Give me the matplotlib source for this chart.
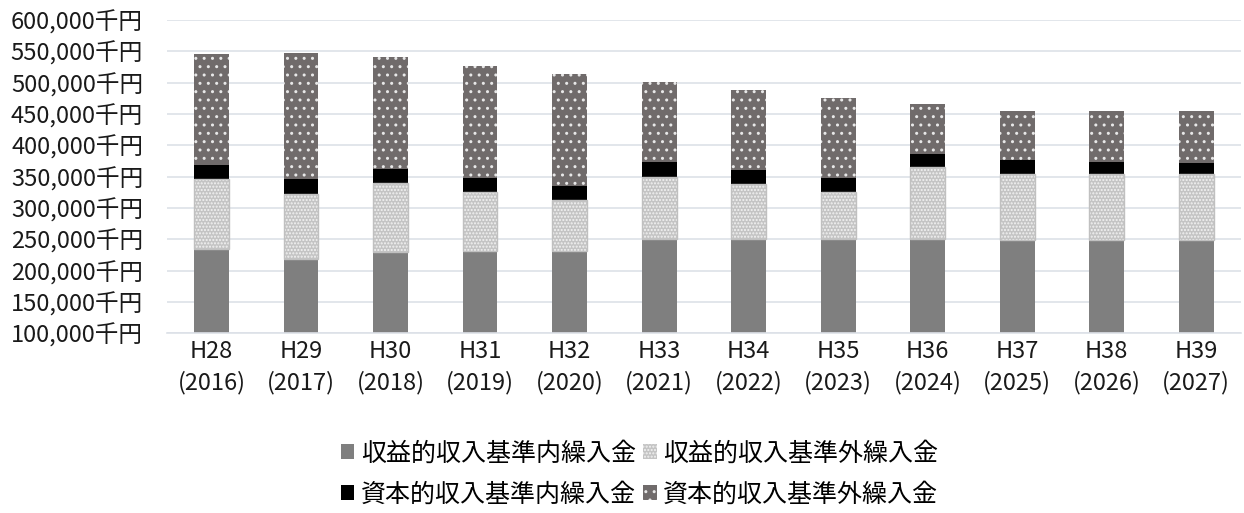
# -*- coding: utf-8 -*-
# 繰入金の推移（積み上げ棒グラフ）
import matplotlib
matplotlib.use('Agg')
import matplotlib.pyplot as plt
from matplotlib.ticker import FuncFormatter
from matplotlib.patches import Patch

# ============================= Data =============================
years = ['H28\n(2016)', 'H29\n(2017)', 'H30\n(2018)', 'H31\n(2019)',
         'H32\n(2020)', 'H33\n(2021)', 'H34\n(2022)', 'H35\n(2023)',
         'H36\n(2024)', 'H37\n(2025)', 'H38\n(2026)', 'H39\n(2027)']

# 千円
rev_in  = [234000, 219000, 230000, 232000, 231000, 250500,
           250000, 250000, 250000, 249000, 249000, 249000]
rev_out = [112000, 103500, 109500,  93000,  82000,  99500,
            88000,  76000, 116000, 105000, 105000, 105000]
cap_in  = [ 22000,  23000,  22500,  23000,  22000,  23500,
            22000,  22000,  20000,  22000,  20000,  18000]
cap_out = [178000, 202000, 178500, 178000, 178500, 127000,
           128000, 128000,  79500,  79000,  81000,  83000]

labels = ['収益的収入基準内繰入金', '収益的収入基準外繰入金',
          '資本的収入基準内繰入金', '資本的収入基準外繰入金']

# ============================= Plot =============================
plt.rcParams['font.family'] = ['Noto Sans CJK JP', 'DejaVu Sans']
plt.rcParams['hatch.linewidth'] = 1.0

fig = plt.figure(figsize=(12.44, 5.13), dpi=100)
ax = fig.add_axes([0.134, 0.3503, 0.8636, 0.6107])

x = range(len(years))
w = 0.39

b2 = [a + b for a, b in zip(rev_in, rev_out)]
b3 = [a + b for a, b in zip(b2, cap_in)]

ax.bar(x, rev_in, w, color='#7f7f7f', zorder=2)
ax.bar(x, rev_out, w, bottom=rev_in, color='#c4c4c4', edgecolor='#f2f2f2',
       linewidth=0, hatch='.....', zorder=2)
ax.bar(x, rev_out, w, bottom=rev_in, fill=False, edgecolor='#c0c0c0',
       linewidth=1.0, zorder=3)
ax.bar(x, cap_in, w, bottom=b2, color='black', zorder=2)
ax.bar(x, cap_out, w, bottom=b3, color='#706b6b', edgecolor='#e8e8e8',
       linewidth=0, hatch='..', zorder=2)

ax.set_ylim(100000, 600000)
ax.set_xlim(-0.5, len(years) - 0.5)
ax.set_yticks(range(100000, 600001, 50000))
ax.yaxis.set_major_formatter(FuncFormatter(lambda v, p: f'{int(v):,}千円'))
ax.set_xticks(list(x))
ax.set_xticklabels(years, linespacing=1.4)
ax.tick_params(axis='both', length=0, labelsize=17, colors='#1a1a1a')
ax.tick_params(axis='y', pad=17)
ax.tick_params(axis='x', pad=5)
ax.grid(axis='y', color='#dde1e8', linewidth=1.2, zorder=0)
for s in ['top', 'right', 'left']:
    ax.spines[s].set_visible(False)
ax.spines['bottom'].set_color('#dde1e8')
ax.spines['bottom'].set_linewidth(1.2)

# -- Legend (row 1: 収益的, row 2: 資本的)
h1 = Patch(facecolor='#7f7f7f', label=labels[0])
h2 = Patch(facecolor='#c4c4c4', edgecolor='#f2f2f2', linewidth=0, hatch='.....', label=labels[1])
h3 = Patch(facecolor='black', label=labels[2])
h4 = Patch(facecolor='#706b6b', edgecolor='#e8e8e8', linewidth=0, hatch='..', label=labels[3])
fig.legend(handles=[h1, h3, h2, h4], loc='center', bbox_to_anchor=(0.514, 0.076),
           ncol=2, frameon=False, fontsize=18, handlelength=0.55, handleheight=0.55,
           handletextpad=0.25, columnspacing=0.3, labelspacing=0.6)

fig.savefig('out.png', dpi=100)
